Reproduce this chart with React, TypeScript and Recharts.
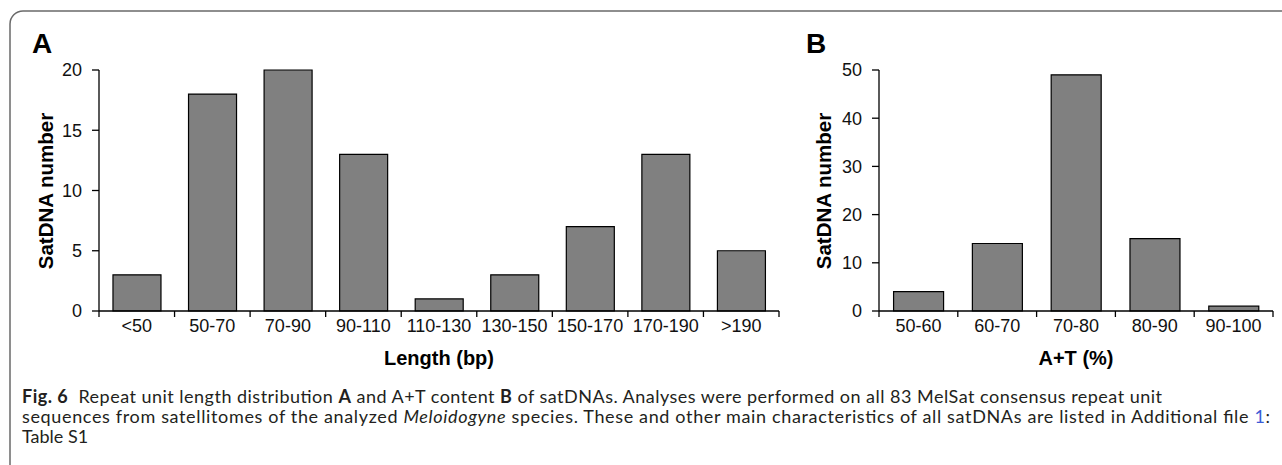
import React from 'react';
import { BarChart, Bar, XAxis, YAxis } from 'recharts';

// ---------- data ----------
const lengthCategories = ['<50', '50-70', '70-90', '90-110', '110-130', '130-150', '150-170', '170-190', '>190'];
const lengthCounts = [3, 18, 20, 13, 1, 3, 7, 13, 5];
const lengthTicks = [0, 5, 10, 15, 20];

const atCategories = ['50-60', '60-70', '70-80', '80-90', '90-100'];
const atCounts = [4, 14, 49, 15, 1];
const atTicks = [0, 10, 20, 30, 40, 50];

const lengthData = lengthCategories.map((category, i) => ({ category, count: lengthCounts[i] }));
const atData = atCategories.map((category, i) => ({ category, count: atCounts[i] }));

// ---------- styles ----------
const AXIS_FONT = '"Liberation Sans", Arial, Helvetica, sans-serif';
const CAPTION_FONT = 'Lato, "Open Sans", sans-serif';
const CAPTION_SIZE = 18;
const TICK_SIZE = 6;
const TICK_MARGIN = 2;
const axisStroke = { stroke: '#000', strokeWidth: 1.3 };

function makeBoundaryTick(count: number, plotWidth: number) {
  const fallbackHalf = plotWidth / count / 2;
  return function BoundaryTick(props: any) {
    const { x, y, payload, index } = props;
    const half = typeof payload?.offset === 'number' && payload.offset > 0 ? payload.offset : fallbackHalf;
    const y1 = y - TICK_MARGIN - TICK_SIZE;
    const y2 = y - TICK_MARGIN;
    return (
      <g>
        <line x1={x - half} x2={x - half} y1={y1} y2={y2} stroke="#000" strokeWidth={1.3} />
        {index === count - 1 && (
          <line x1={x + half} x2={x + half} y1={y1} y2={y2} stroke="#000" strokeWidth={1.3} />
        )}
        <text
          x={x}
          y={y}
          dy="0.71em"
          textAnchor="middle"
          fontFamily={AXIS_FONT}
          fontSize={18}
          fill="#111"
        >
          {payload.value}
        </text>
      </g>
    );
  };
}

const yTickStyle = { fontFamily: AXIS_FONT, fontSize: 18, fill: '#111' };

function Panel(props: {
  data: { category: string; count: number }[];
  ticks: number[];
  left: number;
  width: number;
  plotWidth: number;
}) {
  const { data, ticks, left, width, plotWidth } = props;
  const marginLeft = 39;
  const yAxisWidth = 60;
  const marginRight = width - marginLeft - yAxisWidth - plotWidth;
  const Tick = makeBoundaryTick(data.length, plotWidth);
  return (
    <div style={{ position: 'absolute', left, top: 0 }}>
      <BarChart
        width={width}
        height={380}
        data={data}
        margin={{ top: 70, right: marginRight, bottom: 39, left: marginLeft }}
        barCategoryGap="18.5%"
      >
        <XAxis
          dataKey="category"
          type="category"
          height={30}
          interval={0}
          tickLine={false}
          tickSize={TICK_SIZE}
          tickMargin={TICK_MARGIN}
          axisLine={axisStroke}
          tick={<Tick />}
        />
        <YAxis
          type="number"
          domain={[ticks[0], ticks[ticks.length - 1]]}
          ticks={ticks}
          interval={0}
          width={yAxisWidth}
          tickSize={7}
          tickMargin={10}
          axisLine={axisStroke}
          tickLine={axisStroke}
          tick={yTickStyle}
          allowDecimals={false}
        />
        <Bar dataKey="count" fill="#808080" stroke="#000" strokeWidth={1.2} isAnimationActive={false} />
      </BarChart>
    </div>
  );
}

export default function App() {
  return (
    <div style={{ position: 'absolute', left: 0, top: 0, width: 1282, height: 465, background: '#fff', overflow: 'hidden' }}>
      <Panel data={lengthData} ticks={lengthTicks} left={0} width={800} plotWidth={680} />
      <Panel data={atData} ticks={atTicks} left={780} width={502} plotWidth={394} />
      <svg
        width={1282}
        height={465}
        style={{ position: 'absolute', left: 0, top: 0, pointerEvents: 'none' }}
      >
        <rect x={10} y={11} width={1320} height={520} rx={13} ry={13} fill="none" stroke="#6a6a6a" strokeWidth={1.5} />
        {/* panel letters */}
        <text x={32} y={53} fontFamily={AXIS_FONT} fontWeight="bold" fontSize={28} fill="#000">A</text>
        <text x={806} y={53} fontFamily={AXIS_FONT} fontWeight="bold" fontSize={28} fill="#000">B</text>
        {/* axis titles */}
        <text
          x={0}
          y={0}
          transform="translate(53,191) rotate(-90)"
          textAnchor="middle"
          fontFamily={AXIS_FONT}
          fontWeight="bold"
          fontSize={20.5}
          fill="#000"
        >
          SatDNA number
        </text>
        <text
          x={0}
          y={0}
          transform="translate(831,191) rotate(-90)"
          textAnchor="middle"
          fontFamily={AXIS_FONT}
          fontWeight="bold"
          fontSize={20.5}
          fill="#000"
        >
          SatDNA number
        </text>
        <text x={439} y={365} textAnchor="middle" fontFamily={AXIS_FONT} fontWeight="bold" fontSize={20} fill="#000">
          Length (bp)
        </text>
        <text x={1076} y={365} textAnchor="middle" fontFamily={AXIS_FONT} fontWeight="bold" fontSize={20} fill="#000">
          A+T (%)
        </text>
        {/* caption */}
        <text x={22} y={403} fontFamily={CAPTION_FONT} fontSize={CAPTION_SIZE} fill="#231f20" textLength={1140} lengthAdjust="spacing">
          <tspan fontWeight="bold">Fig. 6</tspan>
          <tspan>{'\u00a0\u00a0Repeat unit length distribution '}</tspan>
          <tspan fontWeight="bold">A</tspan>
          <tspan>{' and A+T content '}</tspan>
          <tspan fontWeight="bold">B</tspan>
          <tspan>{' of satDNAs. Analyses were performed on all 83 MelSat consensus repeat unit'}</tspan>
        </text>
        <text x={22} y={423} fontFamily={CAPTION_FONT} fontSize={CAPTION_SIZE} fill="#231f20" textLength={1248} lengthAdjust="spacing">
          <tspan>{'sequences from satellitomes of the analyzed '}</tspan>
          <tspan fontStyle="italic">Meloidogyne</tspan>
          <tspan>{' species. These and other main characteristics of all satDNAs are listed in Additional file '}</tspan>
          <tspan fill="#3b5bd6">1</tspan>
          <tspan>:</tspan>
        </text>
        <text x={22} y={443} fontFamily={CAPTION_FONT} fontSize={CAPTION_SIZE} fill="#231f20">
          Table S1
        </text>
      </svg>
    </div>
  );
}
